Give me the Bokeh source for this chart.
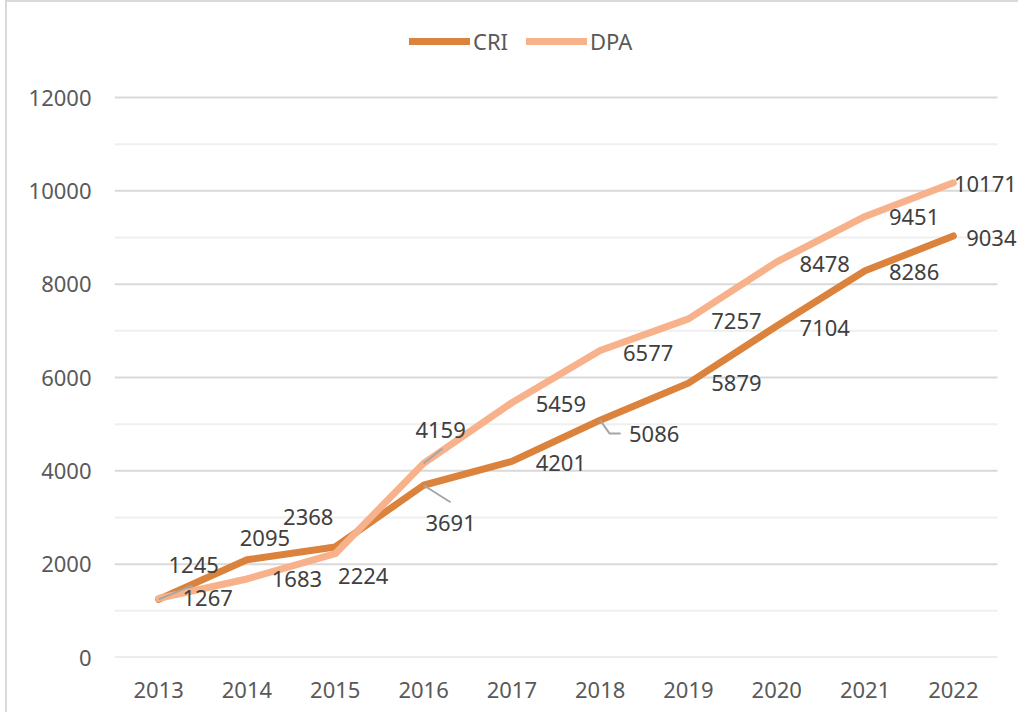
from bokeh.plotting import figure
from bokeh.models import (ColumnDataSource, Range1d, FixedTicker, LabelSet,
                          Legend, LegendItem)
from bokeh.core.properties import value
from bokeh.embed import file_html
from bokeh.resources import INLINE

# ---- data ----
years = ["2013", "2014", "2015", "2016", "2017", "2018", "2019", "2020", "2021", "2022"]
cri = [1245, 2095, 2368, 3691, 4201, 5086, 5879, 7104, 8286, 9034]
dpa = [1267, 1683, 2224, 4159, 5459, 6577, 7257, 8478, 9451, 10171]
y_major = [0, 2000, 4000, 6000, 8000, 10000, 12000]
y_minor = [1000, 3000, 5000, 7000, 9000, 11000]

# ---- label placement (screen px, right / down from the point) ----
cri_dx = [35, 18, -27, 27, 49, 54, 48, 48, 49, 38]
cri_dy = [-34, -22, -30, 38, 2, 14, 0, 2, 1, 2]
dpa_dx = [49, 50, 28, 17, 49, 48, 48, 48, 49, 32]
dpa_dy = [0, 0, 22, -33, 1, 2, 2, 2, 1, 1]
# leader lines: (series, index, path in px offsets)
leaders = [
    ("CRI", 0, [(0, 0), (34, -14)]),
    ("CRI", 3, [(0, 0), (27, 17)]),
    ("DPA", 3, [(0, 0), (19, -15)]),
    ("CRI", 5, [(0, 0), (9.5, 13.4), (20.5, 13.4)]),
]

CRI_COLOR = "#DB833D"
DPA_COLOR = "#F7B28B"
FONT = "Noto Sans"

# geometry of the Excel-like plot area
PLOT_W = 883          # width of the category area in px
PLOT_H = 560          # height of 0..12000 in px
Y0, Y1 = 0, 12000

W, H = 1013, 712
BL, BR, BT, BB = 107, 0, 0, 57
FW, FH = W - BL - BR, H - BT - BB
n = len(years)
px_per_x = PLOT_W / n
px_per_y = PLOT_H / (Y1 - Y0)
x_start = -0.5
x_end = x_start + FW / px_per_x
y_end = Y0 + FH / px_per_y

xs = list(range(n))

p = figure(width=W, height=H, output_backend="svg", toolbar_location=None,
           x_range=Range1d(x_start, x_end), y_range=Range1d(Y0, y_end),
           min_border_left=BL, min_border_right=BR, min_border_top=BT,
           min_border_bottom=BB)
p.outline_line_color = None
p.background_fill_color = "white"
p.border_fill_color = "white"
p.styles = {"border-left": "2px solid #d9d9d9", "border-top": "2px solid #d9d9d9",
            "margin-left": "5px"}

# grid (drawn as segments so it stops at the plot-area edge)
p.xgrid.grid_line_color = None
p.ygrid.grid_line_color = None
p.segment(x0=[-0.5] * len(y_minor), x1=[n - 0.5] * len(y_minor),
          y0=y_minor, y1=y_minor, line_color="#efefef", line_width=2)
p.segment(x0=[-0.5] * len(y_major), x1=[n - 0.5] * len(y_major),
          y0=y_major, y1=y_major, line_color="#d9d9d9", line_width=2)

# axes
p.yaxis.ticker = FixedTicker(ticks=y_major)
p.xaxis.ticker = FixedTicker(ticks=xs)
p.xaxis.major_label_overrides = {i: y for i, y in enumerate(years)}
for ax in (p.xaxis, p.yaxis):
    ax.axis_line_color = None
    ax.major_tick_line_color = None
    ax.minor_tick_line_color = None
    ax.major_tick_out = 0
    ax.major_tick_in = 0
    ax.minor_tick_out = 0
    ax.minor_tick_in = 0
    ax.major_label_text_font = FONT
    ax.major_label_text_font_size = "22px"
    ax.major_label_text_color = "#595959"
p.yaxis.major_label_standoff = 23
p.xaxis.major_label_standoff = 24

# lines
r_cri = p.line(xs, cri, line_color=CRI_COLOR, line_width=7,
               line_join="round", line_cap="round")
r_dpa = p.line(xs, dpa, line_color=DPA_COLOR, line_width=7,
               line_join="round", line_cap="round")

# leader lines
lx, ly = [], []
for ser, i, path in leaders:
    base = cri[i] if ser == "CRI" else dpa[i]
    lx.append([xs[i] + dx / px_per_x for dx, dy in path])
    ly.append([base - dy / px_per_y for dx, dy in path])
p.multi_line(lx, ly, line_color="#a6a6a6", line_width=2)

# data labels
def add_labels(vals, dxs, dys):
    src = ColumnDataSource(dict(x=xs, y=vals, t=[str(v) for v in vals],
                                xo=dxs, yo=[-d for d in dys]))
    ls = LabelSet(x="x", y="y", text="t", x_offset="xo", y_offset="yo",
                  source=src, text_align="center", text_baseline="middle",
                  text_font=value(FONT), text_font_size=value("22px"),
                  text_color=value("#404040"))
    p.add_layout(ls)

add_labels(cri, cri_dx, cri_dy)
add_labels(dpa, dpa_dx, dpa_dy)

legend = Legend(items=[LegendItem(label="CRI", renderers=[r_cri]),
                       LegendItem(label="DPA", renderers=[r_dpa])],
                orientation="horizontal", location=(295, 601),
                glyph_width=61, glyph_height=20, label_height=20,
                label_standoff=3, spacing=18, padding=0, margin=0,
                border_line_color=None, background_fill_alpha=0,
                label_text_font=FONT, label_text_font_size="22px",
                label_text_color="#595959")
p.add_layout(legend)

open("out.html", "w").write(file_html(p, INLINE))
